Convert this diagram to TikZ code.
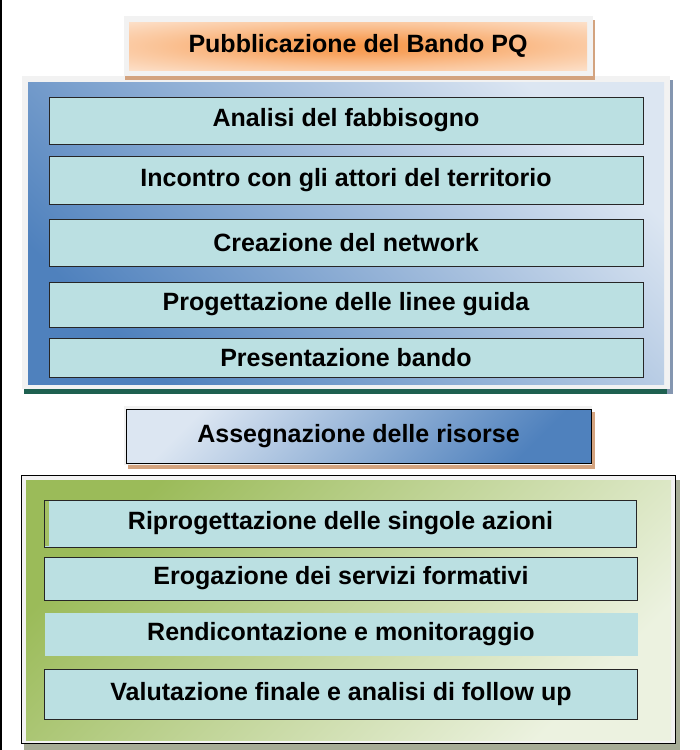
\documentclass[tikz,border=0pt]{standalone}
\usepackage{fontspec}
\setmainfont{Liberation Sans}
\definecolor{tealc}{RGB}{187,224,226}
\definecolor{framegray}{RGB}{242,242,242}
\definecolor{bluedark}{RGB}{79,129,189}
\definecolor{bluelight}{RGB}{220,230,242}
\definecolor{greendark}{RGB}{155,187,89}
\definecolor{greenlight}{RGB}{236,242,224}
\definecolor{orangec}{RGB}{247,150,72}
\definecolor{peach}{RGB}{253,233,217}
\definecolor{tan}{RGB}{211,163,127}
\definecolor{darkgreen}{RGB}{30,96,80}
\definecolor{bluegray}{RGB}{132,150,176}
\definecolor{olivegray}{RGB}{166,172,150}
\definecolor{stripgreen}{RGB}{163,192,100}
\pgfdeclareradialshading{orangeglow}{\pgfpoint{0bp}{0bp}}{%
  color(0bp)=(orangec); color(8bp)=(orangec!85!peach); color(22bp)=(orangec!45!peach);
  color(40bp)=(peach); color(50bp)=(peach)}
\begin{document}
\begin{tikzpicture}[x=1pt,y=-1pt,
  blk/.style={inner sep=0pt, outer sep=0pt, anchor=north west},
  lbl/.style={font=\fontsize{25}{30}\selectfont\bfseries},
  tbox/.style={blk, lbl, fill=tealc, draw=black!85, line width=1pt},
  nbox/.style={blk, lbl, fill=tealc, draw=none}]
\useasboundingbox (0,0) rectangle (700,750);
\fill[white] (0,0) rectangle (700,750);
\draw[line width=1.5pt] (1,0) -- (1,750);

% ---- blue panel
\node[blk, fill=bluegray, minimum width=649pt, minimum height=314pt] (blueshadow) at (24,80) {};
\fill[darkgreen] (24,389) rectangle (667,394);
\node[blk, fill=framegray, minimum width=648pt, minimum height=313pt] (blueframe) at (22,76) {};
\node[blk, top color=bluelight, bottom color=bluedark, shading angle=-45,
      minimum width=636pt, minimum height=302pt] (bluepanel) at (28,82) {};
\node[tbox, minimum width=594pt, minimum height=47pt] (analisi) at (49,97) {Analisi del fabbisogno};
\node[tbox, minimum width=594pt, minimum height=48pt] (incontro) at (49,156) {Incontro con gli attori del territorio};
\node[tbox, minimum width=594pt, minimum height=47pt] (creazione) at (49,219) {Creazione del network};
\node[tbox, minimum width=594pt, minimum height=45pt] (progettazione) at (49,282) {Progettazione delle linee guida};
\node[tbox, minimum width=594pt, minimum height=39pt] (presentazione) at (49,338) {Presentazione bando};

% ---- top title
\node[blk, fill=tan, minimum width=470pt, minimum height=60pt] (pubshadow) at (125,20) {};
\node[blk, fill=framegray, minimum width=469pt, minimum height=60pt] (pubframe) at (124,16) {};
\node[blk, lbl, shading=orangeglow,
      minimum width=458pt, minimum height=48pt] (pubblicazione) at (129,22) {Pubblicazione del Bando PQ};

% ---- assegnazione
\node[blk, fill=tan, minimum width=467pt, minimum height=57pt] (assshadow) at (128,412) {};
\node[blk, fill=framegray, minimum width=468pt, minimum height=59pt] (assframe) at (124,406) {};
\node[blk, lbl, top color=bluelight, bottom color=bluedark, shading angle=45,
      draw=black, line width=1pt,
      minimum width=465pt, minimum height=54pt] (assegnazione) at (126,409) {Assegnazione delle risorse};

% ---- green panel
\node[blk, fill=olivegray, minimum width=656pt, minimum height=270pt] (greenshadow) at (24,480) {};
\node[blk, fill=framegray, draw=black, line width=1pt, minimum width=654pt, minimum height=268pt] (greenframe) at (21,475) {};
\node[blk, top color=greendark, bottom color=greenlight, shading angle=45,
      minimum width=645pt, minimum height=260pt] (greenpanel) at (26,480) {};
\node[tbox, minimum width=592pt, minimum height=47pt] (riprog) at (44.5,500) {Riprogettazione delle singole azioni};
\fill[stripgreen] (45.2,500.7) rectangle (49,546.3);
\node[tbox, minimum width=593pt, minimum height=43pt] (erogazione) at (44.5,557) {Erogazione dei servizi formativi};
\node[nbox, minimum width=593pt, minimum height=43pt] (rendicontazione) at (44.5,613) {Rendicontazione e monitoraggio};
\node[tbox, minimum width=593pt, minimum height=50pt] (valutazione) at (44.5,669) {Valutazione finale e analisi di follow up};
\end{tikzpicture}
\end{document}
